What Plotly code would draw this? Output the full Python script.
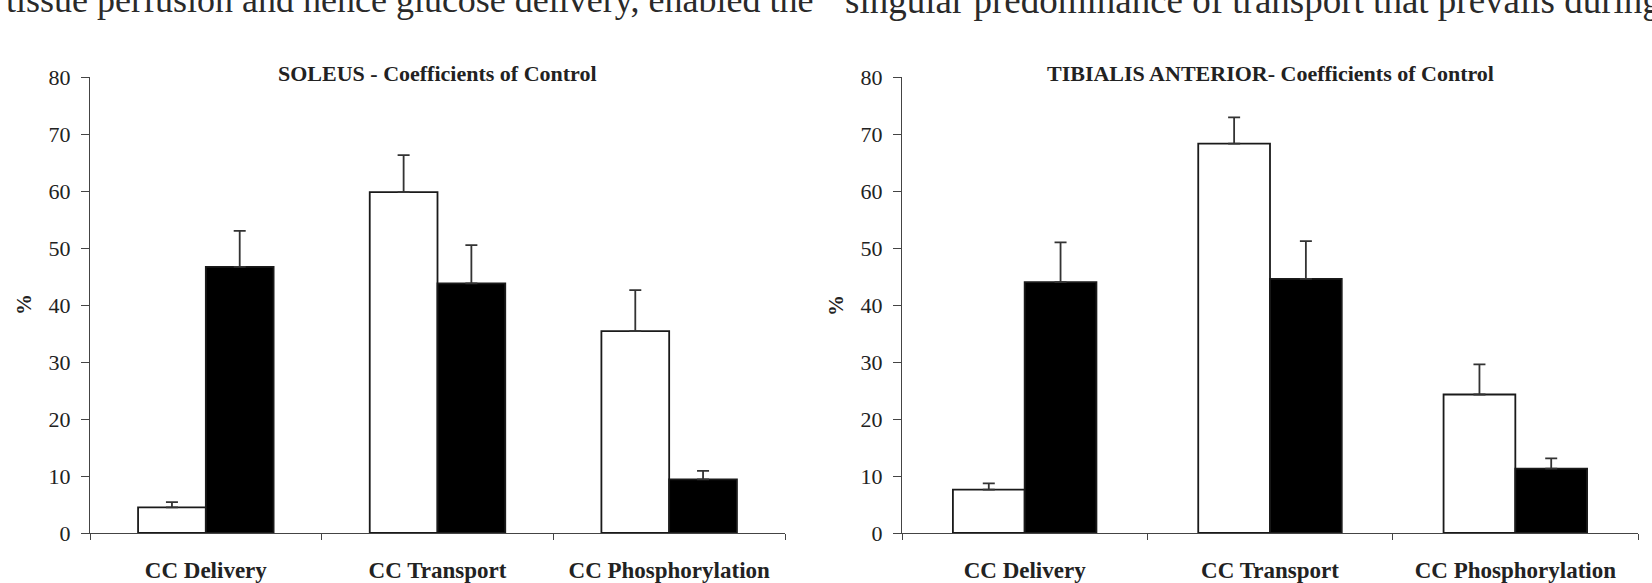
import plotly.graph_objects as go

# Control coefficients (%) for the three steps of muscle glucose uptake
categories = ["CC Delivery", "CC Transport", "CC Phosphorylation"]

soleus_open = [4.5, 59.8, 35.4]
soleus_open_err = [0.9, 6.5, 7.2]
soleus_filled = [46.7, 43.8, 9.4]
soleus_filled_err = [6.3, 6.7, 1.5]

ta_open = [7.6, 68.3, 24.3]
ta_open_err = [1.1, 4.6, 5.3]
ta_filled = [44.0, 44.6, 11.3]
ta_filled_err = [7.0, 6.6, 1.8]

y_ticks = [0, 10, 20, 30, 40, 50, 60, 70, 80]

panel_titles = ["SOLEUS - Coefficients of Control",
                "TIBIALIS ANTERIOR- Coefficients of Control"]
running_text = ["tissue perfusion and hence glucose delivery, enabled the",
                "singular predominance of transport that prevails during"]

W, H = 1652, 583
SERIF = "Liberation Serif, Times New Roman, serif"
INK = "#222222"
LINE = "#444444"


def px_x(p):
    return p / W


def px_y(p):
    return 1 - p / H


def bar(values, errs, fill, xa, ya):
    return go.Bar(
        x=categories, y=values, xaxis=xa, yaxis=ya,
        marker=dict(color=fill, line=dict(color="#1a1a1a", width=1.8)),
        error_y=dict(type="data", symmetric=False, array=errs,
                     arrayminus=[0] * len(errs),
                     color="#333333", thickness=1.8, width=6),
        showlegend=False,
    )


fig = go.Figure()
fig.add_trace(bar(soleus_open, soleus_open_err, "white", "x", "y"))
fig.add_trace(bar(soleus_filled, soleus_filled_err, "black", "x", "y"))
fig.add_trace(bar(ta_open, ta_open_err, "white", "x2", "y2"))
fig.add_trace(bar(ta_filled, ta_filled_err, "black", "x2", "y2"))

y_dom = [px_y(533), px_y(77)]
panels = [(90, 785), (902, 1638)]

xaxis_common = dict(
    type="category", showline=True, linecolor=LINE, linewidth=1.2,
    ticks="outside", tickson="boundaries", ticklen=6, tickcolor=LINE,
    tickwidth=1.2, showgrid=False, zeroline=False,
    tickfont=dict(family=SERIF, size=23, color=INK, weight="bold"),
    ticklabelstandoff=16, fixedrange=True, automargin=False,
)
yaxis_common = dict(
    range=[0, 80], tickvals=y_ticks, showline=True, linecolor=LINE,
    linewidth=1.2, ticks="outside", ticklen=8, tickcolor=LINE, tickwidth=1.2,
    showgrid=False, zeroline=False, domain=y_dom,
    tickfont=dict(family=SERIF, size=22, color=INK),
    ticklabelstandoff=6, fixedrange=True, automargin=False,
)

fig.update_layout(
    width=W, height=H, autosize=False,
    margin=dict(l=0, r=0, t=0, b=0, pad=0, autoexpand=False),
    paper_bgcolor="white", plot_bgcolor="white",
    barmode="group", bargroupgap=0,
    xaxis=dict(xaxis_common, domain=[px_x(panels[0][0]), px_x(panels[0][1])],
               anchor="y"),
    yaxis=dict(yaxis_common, anchor="x"),
    xaxis2=dict(xaxis_common, domain=[px_x(panels[1][0]), px_x(panels[1][1])],
                anchor="y2"),
    yaxis2=dict(yaxis_common, anchor="x2"),
)
fig.update_layout(bargap=0.415)

annotations = []
for (x0, x1), title in zip(panels, panel_titles):
    annotations.append(dict(
        text=f"<b>{title}</b>", xref="paper", yref="paper",
        x=px_x((x0 + x1) / 2), y=px_y(73.5), xanchor="center", yanchor="middle",
        showarrow=False, font=dict(family=SERIF, size=22, color=INK),
    ))
    annotations.append(dict(
        text="<b>%</b>", xref="paper", yref="paper", textangle=-90,
        x=px_x(x0 - 66), y=px_y(305), xanchor="center", yanchor="middle",
        showarrow=False, font=dict(family=SERIF, size=21, color=INK),
    ))

# running body text of the page above the figure, clipped at the top edge
annotations.append(dict(
    text=running_text[0], xref="paper", yref="paper",
    x=px_x(4), y=px_y(0), xanchor="left", yanchor="middle",
    showarrow=False, font=dict(family=SERIF, size=36, color="#2a2a2a"),
))
annotations.append(dict(
    text=running_text[1], xref="paper", yref="paper",
    x=px_x(843), y=px_y(0), xanchor="left", yanchor="middle",
    showarrow=False, font=dict(family=SERIF, size=37, color="#2a2a2a"),
))
fig.update_layout(annotations=annotations)

fig.write_html("out.html", config={"displayModeBar": False})
